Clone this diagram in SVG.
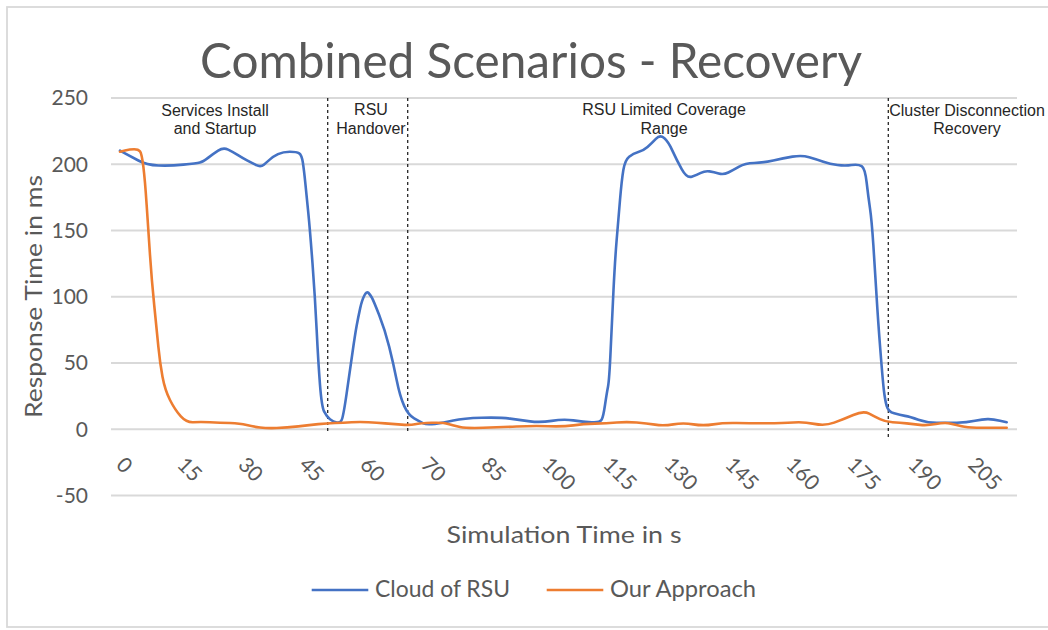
<svg xmlns="http://www.w3.org/2000/svg" width="1048" height="630" viewBox="0 0 1048 630">
  <style>
    .grid { stroke: #d9d9d9; stroke-width: 2; }
    .ytick { font-family: Lato, "Open Sans", sans-serif; font-size: 21px; fill: #595959; text-anchor: end; }
    .xtick { font-family: Lato, "Open Sans", sans-serif; font-size: 21px; fill: #595959; }
    .axtitle { font-family: Lato, "Open Sans", sans-serif; font-size: 23px; fill: #595959; }
    .note { font-family: "Liberation Sans", Arial, sans-serif; font-size: 16px; fill: #262626; text-anchor: middle; }
    .divider { stroke: #262626; stroke-width: 1.3; stroke-dasharray: 3 3; }
    .series { fill: none; stroke-width: 2.6; stroke-linejoin: round; stroke-linecap: round; }
    .blue { stroke: #4472c4; }
    .orange { stroke: #ed7d31; }
  </style>

  <!-- chart frame -->
  <rect x="0" y="0" width="1048" height="630" fill="#ffffff"/>
  <rect x="7" y="7" width="1060" height="620" fill="#ffffff" stroke="#d9d9d9" stroke-width="1.8"/>

  <!-- title -->
  <text x="531" y="78" font-family="Lato, 'Open Sans', sans-serif" font-size="49" fill="#595959" text-anchor="middle" textLength="662" lengthAdjust="spacingAndGlyphs">Combined Scenarios - Recovery</text>

  <!-- horizontal gridlines -->
  <g id="gridlines">
    <line class="grid" x1="111" y1="98" x2="1017" y2="98"/>
    <line class="grid" x1="111" y1="164.25" x2="1017" y2="164.25"/>
    <line class="grid" x1="111" y1="230.5" x2="1017" y2="230.5"/>
    <line class="grid" x1="111" y1="296.75" x2="1017" y2="296.75"/>
    <line class="grid" x1="111" y1="363" x2="1017" y2="363"/>
    <line class="grid" x1="111" y1="429.25" x2="1017" y2="429.25"/>
    <line class="grid" x1="111" y1="495.5" x2="1017" y2="495.5"/>
  </g>

  <!-- y axis tick labels -->
  <g id="y-axis">
    <text class="ytick" x="88" y="105.2">250</text>
    <text class="ytick" x="88" y="171.5">200</text>
    <text class="ytick" x="88" y="237.7">150</text>
    <text class="ytick" x="88" y="304">100</text>
    <text class="ytick" x="88" y="370.2">50</text>
    <text class="ytick" x="88" y="436.5">0</text>
    <text class="ytick" x="88" y="502.7">-50</text>
    <text class="axtitle" transform="translate(41.5,296.5) rotate(-90)" text-anchor="middle" textLength="243" lengthAdjust="spacingAndGlyphs">Response Time in ms</text>
  </g>

  <!-- x axis tick labels (rotated) -->
  <g id="x-axis">
    <text class="xtick" transform="translate(115,466) rotate(45)">0</text>
    <text class="xtick" transform="translate(176,466) rotate(45)">15</text>
    <text class="xtick" transform="translate(237,466) rotate(45)">30</text>
    <text class="xtick" transform="translate(298,466) rotate(45)">45</text>
    <text class="xtick" transform="translate(359,466) rotate(45)">60</text>
    <text class="xtick" transform="translate(420,466) rotate(45)">70</text>
    <text class="xtick" transform="translate(480,466) rotate(45)">85</text>
    <text class="xtick" transform="translate(541,466) rotate(45)">100</text>
    <text class="xtick" transform="translate(602,466) rotate(45)">115</text>
    <text class="xtick" transform="translate(663,466) rotate(45)">130</text>
    <text class="xtick" transform="translate(724,466) rotate(45)">145</text>
    <text class="xtick" transform="translate(785,466) rotate(45)">160</text>
    <text class="xtick" transform="translate(846,466) rotate(45)">175</text>
    <text class="xtick" transform="translate(907,466) rotate(45)">190</text>
    <text class="xtick" transform="translate(967,466) rotate(45)">205</text>
    <text class="axtitle" x="564" y="543" text-anchor="middle" textLength="235" lengthAdjust="spacingAndGlyphs">Simulation Time in s</text>
  </g>

  <!-- phase dividers -->
  <g id="connectors">
    <line class="divider" x1="327.7" y1="98" x2="327.7" y2="432"/>
    <line class="divider" x1="407.7" y1="98" x2="407.7" y2="432"/>
    <line class="divider" x1="888.3" y1="98" x2="888.3" y2="440"/>
  </g>

  <!-- phase labels -->
  <g id="phase-install">
    <text class="note" x="215" y="115.5">Services Install</text>
    <text class="note" x="215" y="134">and Startup</text>
  </g>
  <g id="phase-handover">
    <text class="note" x="371" y="115">RSU</text>
    <text class="note" x="371" y="133.5">Handover</text>
  </g>
  <g id="phase-coverage">
    <text class="note" x="664" y="115">RSU Limited Coverage</text>
    <text class="note" x="664" y="133.5">Range</text>
  </g>
  <g id="phase-cluster">
    <text class="note" x="967" y="115.5">Cluster Disconnection</text>
    <text class="note" x="967" y="134">Recovery</text>
  </g>

  <!-- Cloud of RSU series (smoothed) -->
  <g id="series-cloud">
    <path class="series blue" d="M120,150.7 L125,153.35
      Q130,156 138.35,160.5 Q146.7,165 158.35,165.5 Q170,166 183.35,164.65 Q196.7,163.3 199.85,162.5
      Q203,161.7 208,157.85 Q213,154 218.15,150.65 Q223.3,147.3 228.15,149.65 Q233,152 238,155.15
      Q243,158.3 247.5,160.65 Q252,163 256.35,165.15 Q260.7,167.3 263.85,164.65 Q267,162 270,159.35
      Q273,156.7 278,154.2 Q283,151.7 289.85,151.7 Q296.7,151.7 299.2,153.35 Q301.7,155 302.85,162.5
      Q304,170 305.35,183.35 Q306.7,196.7 308.35,213.35 Q310,230 312.5,263.35 Q315,296.7 316.65,329.85
      Q318.3,363 320,384.85 Q321.7,406.7 324.2,411.7 Q326.7,416.7 330,419.2 Q333.3,421.7 336.65,422.5
      Q340,423.3 341.65,420 Q343.3,416.7 346.65,393.35 Q350,370 352.5,352.5 Q355,335 356.65,325.85
      Q358.3,316.7 360.15,308.35 Q362,300 364.35,295.5 Q366.7,291 368.35,292.75 Q370,294.5 371.65,297.25
      Q373.3,300 379.15,315 Q385,330 389.15,346.65 Q393.3,363.3 396.65,380 Q400,396.7 404.15,405.85
      Q408.3,415 414.15,418.35 Q420,421.7 423.35,423.35 Q426.7,425 435,423.85 Q443.3,422.7 453.3,420.5
      Q463.3,418.3 481.65,417.8 Q500,417.3 510,418.65 Q520,420 530,421.35 Q540,422.7 551.65,420.85
      Q563.3,419 573.3,420.35 Q583.3,421.7 591.65,422.2 Q600,422.7 601.65,419.7 Q603.3,416.7 605,405
      Q606.7,393.3 608,386.65 Q609.3,380 610.65,350 Q612,320 613.5,290 Q615,260 616.65,240
      Q618.3,220 620,200 Q621.7,180 623.35,170 Q625,160 629.15,156.65 Q633.3,153.3 638.3,152
      Q643.3,150.7 647.5,147 Q651.7,143.3 655.85,138.9 Q660,134.5 664.15,138.1 Q668.3,141.7 672.5,150.85
      Q676.7,160 681.7,169.15 Q686.7,178.3 691.7,176.65 Q696.7,175 700.85,172.85 Q705,170.7 709.5,171.35
      Q714,172 718.65,173.5 Q723.3,175 728.3,172.5 Q733.3,170 739.15,166.65 Q745,163.3 754.15,163
      Q763.3,162.7 773.3,160.5 Q783.3,158.3 792.5,156.65 Q801.7,155 809.2,157.15 Q816.7,159.3 823.35,161.65
      Q830,164 837.5,165 Q845,166 851.65,165 Q858.3,164 861.65,166.15 Q865,168.3 866.65,182.5
      Q868.3,196.7 870,208.35 Q871.7,220 873.35,245 Q875,270 876.5,295 Q878,320 880.35,350
      Q882.7,380 883.85,390 Q885,400 886.65,405.85 Q888.3,411.7 894.15,413.35 Q900,415 905,415.85
      Q910,416.7 918.35,419.7 Q926.7,422.7 936.7,422.7 Q946.7,422.7 956.7,422.7 Q966.7,422.7 975,420.85
      Q983.3,419 988.3,419.15 Q993.3,419.3 1000,420.8 L1006.7,422.3"/>
  </g>

  <!-- Our Approach series (smoothed) -->
  <g id="series-approach">
    <path class="series orange" d="M120,151.7 L125,150.5
      Q130,149.3 134.15,149.3 Q138.3,149.3 140,151.3 Q141.7,153.3 143.35,166.65 Q145,180 146.65,205
      Q148.3,230 150,255 Q151.7,280 154.2,305 Q156.7,330 158.35,346.65 Q160,363.3 162.5,376.65
      Q165,390 170,400 Q175,410 180.85,416.35 Q186.7,422.7 193.35,422.2 Q200,421.7 210,422.2
      Q220,422.7 230,423 Q240,423.3 246.65,425 Q253.3,426.7 260,427.5 Q266.7,428.3 276.7,428
      Q286.7,427.7 298.35,426.35 Q310,425 318.35,424.15 Q326.7,423.3 335,423 Q343.3,422.7 351.65,422.2
      Q360,421.7 368.35,422.2 Q376.7,422.7 385,423.35 Q393.3,424 401.65,424.65 Q410,425.3 415,424.3
      Q420,423.3 431.65,422.8 Q443.3,422.3 448.3,424 Q453.3,425.7 460,427 Q466.7,428.3 483.35,427.8
      Q500,427.3 516.65,426.5 Q533.3,425.7 548.3,426.2 Q563.3,426.7 573.3,425.35 Q583.3,424 595,423.65
      Q606.7,423.3 616.7,422.5 Q626.7,421.7 636.7,422.5 Q646.7,423.3 655,424.65 Q663.3,426 673.3,424.35
      Q683.3,422.7 693.3,424.35 Q703.3,426 713.3,424.35 Q723.3,422.7 736.65,423 Q750,423.3 766.65,423.3
      Q783.3,423.3 793.3,422.5 Q803.3,421.7 814.15,423.85 Q825,426 834.15,422.65 Q843.3,419.3 853.3,415
      Q863.3,410.5 869.15,413.6 Q875,416.7 880,419.2 Q885,421.7 892.5,422.2 Q900,422.7 906.65,423.35
      Q913.3,424 920,424.85 Q926.7,425.7 935.85,424 Q945,422.3 950.85,423.65 Q956.7,425 961.7,426.35
      Q966.7,427.7 976.7,427.7 Q986.7,427.7 996.7,427.7 L1006.7,427.7"/>
  </g>

  <!-- legend -->
  <g id="legend">
    <line class="blue" x1="311.7" y1="590" x2="368.3" y2="590" stroke-width="2.6"/>
    <text class="axtitle" x="375" y="597.3" textLength="135" lengthAdjust="spacingAndGlyphs">Cloud of RSU</text>
    <line class="orange" x1="546.7" y1="590" x2="603.3" y2="590" stroke-width="2.6"/>
    <text class="axtitle" x="610" y="597.3" textLength="146" lengthAdjust="spacingAndGlyphs">Our Approach</text>
  </g>
</svg>
